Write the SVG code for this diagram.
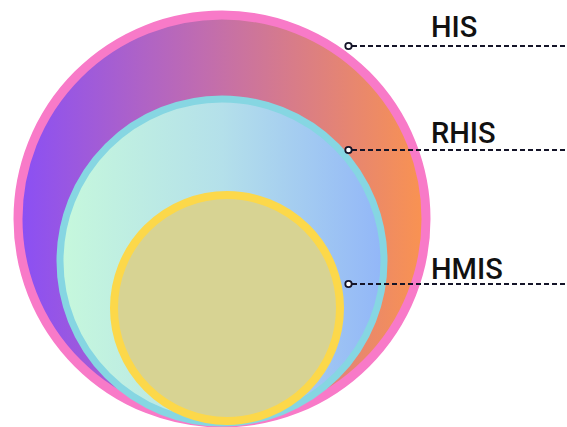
<svg xmlns="http://www.w3.org/2000/svg" width="567" height="427" viewBox="0 0 567 427">
<defs>
<linearGradient id="gOuter" x1="0" y1="0" x2="1" y2="0">
<stop offset="0" stop-color="#8a4ff5"/>
<stop offset="0.45" stop-color="#c06cb0"/>
<stop offset="1" stop-color="#fa9350"/>
</linearGradient>
<linearGradient id="gMid" x1="0" y1="0" x2="1" y2="0">
<stop offset="0" stop-color="#c6f8dc"/>
<stop offset="0.5" stop-color="#b4e0ea"/>
<stop offset="1" stop-color="#92b6f8"/>
</linearGradient>
<style>
.lbl{font-family:Roboto,"Liberation Sans",sans-serif;font-size:29px;font-weight:500;fill:#111}
.lead{stroke:#141428;stroke-width:1.8;stroke-dasharray:5 3;fill:none}
.dot{fill:#fff;stroke:#141428;stroke-width:1.8}
</style>
</defs>
<rect width="567" height="427" fill="#fff"/>
<g id="his">
<circle cx="222" cy="219" r="204" fill="url(#gOuter)" stroke="#f87ac8" stroke-width="9"/>
</g>
<g id="rhis">
<circle cx="222" cy="261" r="162" fill="url(#gMid)" stroke="#86d6e2" stroke-width="7"/>
</g>
<g id="hmis">
<circle cx="227" cy="308" r="113" fill="#d7d393" stroke="#fcd84a" stroke-width="8"/>
</g>
<g id="connectors">
<line class="lead" x1="352" y1="46" x2="567" y2="46"/>
<line class="lead" x1="352" y1="150" x2="567" y2="150"/>
<line class="lead" x1="352" y1="284" x2="567" y2="284"/>
<circle class="dot" cx="348.5" cy="46" r="3.2"/>
<circle class="dot" cx="348.5" cy="150" r="3.2"/>
<circle class="dot" cx="348.5" cy="284" r="3.2"/>
</g>
<text class="lbl" x="431" y="37">HIS</text>
<text class="lbl" x="431" y="143">RHIS</text>
<text class="lbl" x="431" y="279">HMIS</text>
</svg>
